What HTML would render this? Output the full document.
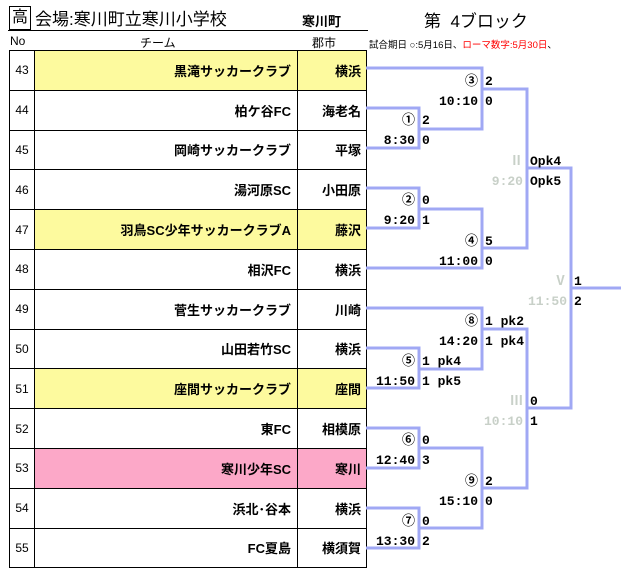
<!DOCTYPE html>
<html><head><meta charset="utf-8"><style>
body{margin:0;width:621px;height:573px;background:#fff;position:relative;overflow:hidden;font-family:"Liberation Sans","Noto Sans CJK JP",sans-serif;}
.a{position:absolute;white-space:nowrap;}
table{position:absolute;left:9px;top:50px;border-collapse:collapse;}
td{border:1.5px solid #000;height:38.3px;padding:0;font-size:13px;box-sizing:content-box;}
tr{height:39.8px;}
td.n{width:24px;text-align:center;font-size:12px;}
td.t{width:256px;text-align:right;padding-right:6px;font-weight:bold;}
td.c{width:63px;text-align:right;padding-right:5px;font-weight:bold;}
.y td.t,.y td.c{background:#fdfa9e;}
.p td.t,.p td.c{background:#fca8c8;}
svg text{font-family:"Liberation Mono","Noto Sans CJK JP",monospace;font-size:13px;font-weight:bold;}
</style></head><body>
<div class="a" style="left:9px;top:6px;width:20px;height:22px;border:1.5px solid #000;font-size:16px;line-height:22px;text-align:center;">高</div>
<div class="a" style="left:35px;top:5px;font-size:17px;">会場:寒川町立寒川小学校</div>
<div class="a" style="left:302px;top:11px;font-size:13px;font-weight:bold;">寒川町</div>
<div class="a" style="left:8px;top:30px;width:360px;border-top:1.5px solid #000;"></div>
<div class="a" style="left:424px;top:7px;font-size:17px;">第 &nbsp;4ブロック</div>
<div class="a" style="left:10px;top:34px;font-size:12px;">No</div>
<div class="a" style="left:140px;top:34px;font-size:12px;">チーム</div>
<div class="a" style="left:312px;top:34px;font-size:12px;">郡市</div>
<div class="a" style="left:369px;top:37px;font-size:9.5px;">試合期日 ○:5月16日、<span style="color:#f00">ローマ数字:5月30日</span>、</div>
<table>
<tr class="y"><td class="n">43</td><td class="t">黒滝サッカークラブ</td><td class="c">横浜</td></tr>
<tr><td class="n">44</td><td class="t">柏ケ谷FC</td><td class="c">海老名</td></tr>
<tr><td class="n">45</td><td class="t">岡崎サッカークラブ</td><td class="c">平塚</td></tr>
<tr><td class="n">46</td><td class="t">湯河原SC</td><td class="c">小田原</td></tr>
<tr class="y"><td class="n">47</td><td class="t">羽鳥SC少年サッカークラブA</td><td class="c">藤沢</td></tr>
<tr><td class="n">48</td><td class="t">相沢FC</td><td class="c">横浜</td></tr>
<tr><td class="n">49</td><td class="t">菅生サッカークラブ</td><td class="c">川崎</td></tr>
<tr><td class="n">50</td><td class="t">山田若竹SC</td><td class="c">横浜</td></tr>
<tr class="y"><td class="n">51</td><td class="t">座間サッカークラブ</td><td class="c">座間</td></tr>
<tr><td class="n">52</td><td class="t">東FC</td><td class="c">相模原</td></tr>
<tr class="p"><td class="n">53</td><td class="t">寒川少年SC</td><td class="c">寒川</td></tr>
<tr><td class="n">54</td><td class="t">浜北･谷本</td><td class="c">横浜</td></tr>
<tr><td class="n">55</td><td class="t">FC夏島</td><td class="c">横須賀</td></tr>
</table>
<svg class="a" style="left:0;top:0" width="621" height="573">
<g fill="none" stroke="#a0a8f4" stroke-width="3">
<polyline points="366,108 419,108 419,148 366,148"/>
<polyline points="366,68 482,68 482,129 419,129"/>
<polyline points="366,188 419,188 419,228 366,228"/>
<polyline points="419,209 482,209 482,268 366,268"/>
<polyline points="482,89 527,89 527,248 482,248"/>
<polyline points="527,168 571,168 571,408 527,408"/>
<line x1="571" y1="288" x2="621" y2="288"/>
<polyline points="366,348 419,348 419,388 366,388"/>
<polyline points="366,308 482,308 482,369 419,369"/>
<polyline points="366,428 419,428 419,468 366,468"/>
<polyline points="366,508 419,508 419,548 366,548"/>
<polyline points="419,448 482,448 482,528 419,528"/>
<polyline points="482,329 527,329 527,488 482,488"/>
</g>
<g text-anchor="end">
<text x="478" y="85">③</text><text x="478" y="105">10:10</text>
<text x="415" y="124">①</text><text x="415" y="144">8:30</text>
<text x="415" y="204">②</text><text x="415" y="224">9:20</text>
<text x="478" y="245">④</text><text x="478" y="265">11:00</text>
<text x="478" y="325">⑧</text><text x="478" y="345">14:20</text>
<text x="415" y="365">⑤</text><text x="415" y="385">11:50</text>
<text x="415" y="444">⑥</text><text x="415" y="464">12:40</text>
<text x="478" y="485">⑨</text><text x="478" y="505">15:10</text>
<text x="415" y="525">⑦</text><text x="415" y="545">13:30</text>
<g fill="#c8d0c8"><text x="523" y="165">Ⅱ</text><text x="523" y="185">9:20</text>
<text x="523" y="405">Ⅲ</text><text x="523" y="425">10:10</text>
<text x="567" y="285">Ⅴ</text><text x="567" y="305">11:50</text></g>
</g>
<g>
<text x="485" y="85">2</text><text x="485" y="105">0</text>
<text x="422" y="124">2</text><text x="422" y="144">0</text>
<text x="422" y="204">0</text><text x="422" y="224">1</text>
<text x="485" y="245">5</text><text x="485" y="265">0</text>
<text x="530" y="165">Opk4</text><text x="530" y="185">Opk5</text>
<text x="574" y="285">1</text><text x="574" y="305">2</text>
<text x="485" y="325">1 pk2</text><text x="485" y="345">1 pk4</text>
<text x="422" y="365">1 pk4</text><text x="422" y="385">1 pk5</text>
<text x="530" y="405">0</text><text x="530" y="425">1</text>
<text x="422" y="444">0</text><text x="422" y="464">3</text>
<text x="485" y="485">2</text><text x="485" y="505">0</text>
<text x="422" y="525">0</text><text x="422" y="545">2</text>
</g>
</svg>
</body></html>
